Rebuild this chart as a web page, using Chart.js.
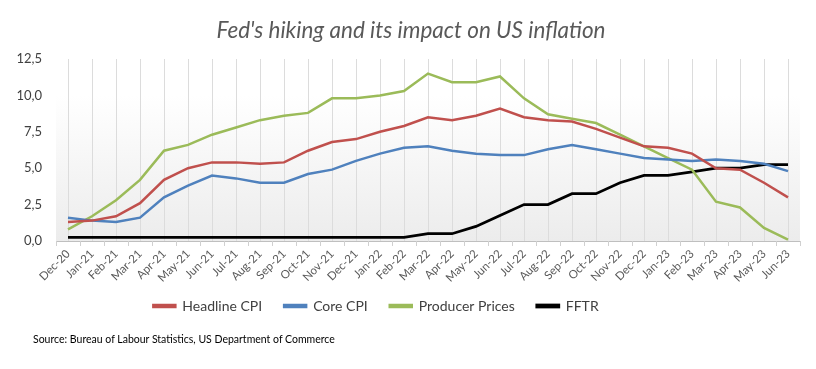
<!DOCTYPE html>
<html><head><meta charset="utf-8">
<script src="https://cdn.jsdelivr.net/npm/chart.js@4.4.0/dist/chart.umd.min.js"></script>
<style>
html,body{margin:0;padding:0;background:#fff;}
#wrap{position:relative;width:816px;height:369px;}
#src{position:absolute;left:33px;top:333px;font:10.5px Lato, sans-serif;color:#000;white-space:nowrap;}
</style></head><body>
<div id="wrap"><canvas id="c"></canvas><div id="src">Source: Bureau of Labour Statistics, US Department of Commerce</div></div>
<script>
const categories = ["Dec-20","Jan-21","Feb-21","Mar-21","Apr-21","May-21","Jun-21","Jul-21","Aug-21","Sep-21","Oct-21","Nov-21","Dec-21","Jan-22","Feb-22","Mar-22","Apr-22","May-22","Jun-22","Jul-22","Aug-22","Sep-22","Oct-22","Nov-22","Dec-22","Jan-23","Feb-23","Mar-23","Apr-23","May-23","Jun-23"];
const headlineCPI = [1.3,1.4,1.7,2.6,4.2,5.0,5.4,5.4,5.3,5.4,6.2,6.8,7.0,7.5,7.9,8.5,8.3,8.6,9.1,8.5,8.3,8.2,7.7,7.1,6.5,6.4,6.0,5.0,4.9,4.0,3.0];
const coreCPI = [1.6,1.4,1.3,1.6,3.0,3.8,4.5,4.3,4.0,4.0,4.6,4.9,5.5,6.0,6.4,6.5,6.2,6.0,5.9,5.9,6.3,6.6,6.3,6.0,5.7,5.6,5.5,5.6,5.5,5.3,4.8];
const producerPrices = [0.8,1.7,2.8,4.2,6.2,6.6,7.3,7.8,8.3,8.6,8.8,9.8,9.8,10.0,10.3,11.5,10.9,10.9,11.3,9.8,8.7,8.4,8.1,7.3,6.5,5.7,4.9,2.7,2.3,0.9,0.1];
const fftr = [0.25,0.25,0.25,0.25,0.25,0.25,0.25,0.25,0.25,0.25,0.25,0.25,0.25,0.25,0.25,0.5,0.5,1.0,1.75,2.5,2.5,3.25,3.25,4.0,4.5,4.5,4.75,5.0,5.0,5.25,5.25];
const yTicks = [0,2.5,5,7.5,10,12.5];

const FONT = "Lato, 'Open Sans', sans-serif";

const bgPlugin = {
  id:'bg',
  beforeDraw(chart){
    const {ctx, chartArea:a} = chart;
    const g = ctx.createLinearGradient(0,a.top,0,a.bottom);
    g.addColorStop(0,'#ffffff');
    g.addColorStop(0.2,'#ffffff');
    g.addColorStop(1,'#ececec');
    ctx.save(); ctx.fillStyle=g; ctx.fillRect(a.left,a.top,a.right-a.left,a.bottom-a.top); ctx.restore();
  },
  afterDraw(chart){
    const x = chart.scales.x, {ctx} = chart;
    const n = x.ticks.length;
    const half = (x.getPixelForTick(1)-x.getPixelForTick(0))/2;
    ctx.save(); ctx.strokeStyle='#d0d0d0'; ctx.lineWidth=1;
    for(let i=0;i<=n;i++){
      const px = Math.round(x.getPixelForTick(0)-half+i*2*half)+0.5;
      ctx.beginPath(); ctx.moveTo(px,x.top); ctx.lineTo(px,x.top+5); ctx.stroke();
    }
    ctx.restore();
  }
};
const legendShift = {
  id:'legendShift',
  afterLayout(chart){
    const l = chart.legend; if(l){ l.left -= 24; l.right -= 24; l.top -= 9; l.bottom -= 9; }
    const t = chart.titleBlock; if(t){ t.left += 11; t.right += 11; }
  }
};

new Chart(document.getElementById('c'), {
  type:'line',
  data:{
    labels:categories,
    datasets:[
      {label:'Headline CPI', data:headlineCPI, borderColor:'#C0504D', backgroundColor:'#C0504D', borderWidth:2.5, pointRadius:0, tension:0},
      {label:'Core CPI', data:coreCPI, borderColor:'#4F81BD', backgroundColor:'#4F81BD', borderWidth:2.5, pointRadius:0, tension:0},
      {label:'Producer Prices', data:producerPrices, borderColor:'#9BBB59', backgroundColor:'#9BBB59', borderWidth:2.5, pointRadius:0, tension:0},
      {label:'FFTR', data:fftr, borderColor:'#000000', backgroundColor:'#000000', borderWidth:2.75, pointRadius:0, tension:0}
    ]
  },
  options:{
    responsive:true, maintainAspectRatio:false, animation:false,
    layout:{padding:{left:0,right:16,top:0,bottom:37}},
    plugins:{
      title:{display:true, text:"Fed's hiking and its impact on US inflation", color:'#595959',
        font:{family:FONT, size:22.5, style:'italic', weight:'normal'}, padding:{top:17,bottom:15}},
      legend:{display:true, position:'bottom',
        labels:{color:'#404040', font:{family:FONT, size:14}, boxWidth:22, boxHeight:2, padding:22}},
      tooltip:{enabled:false}
    },
    scales:{
      x:{offset:true,
        grid:{display:true, offset:false, color:'#dcdcdc', drawTicks:false},
        border:{display:true, color:'#bfbfbf', width:1},
        ticks:{color:'#595959', font:{family:FONT, size:11.5}, maxRotation:45, minRotation:45, autoSkip:false, padding:6},
        afterFit(s){ s.height = 45; }
      },
      y:{min:0, max:12.5,
        afterBuildTicks(s){ s.ticks = yTicks.map(v=>({value:v})); },
        grid:{display:false, drawTicks:false},
        border:{display:false},
        ticks:{color:'#404040', font:{family:FONT, size:13}, padding:14,
          callback:(v)=>v.toFixed(1).replace('.',',')},
        afterFit(s){ s.width = 56; }
      }
    }
  },
  plugins:[bgPlugin, legendShift]
});
</script>
</body></html>
